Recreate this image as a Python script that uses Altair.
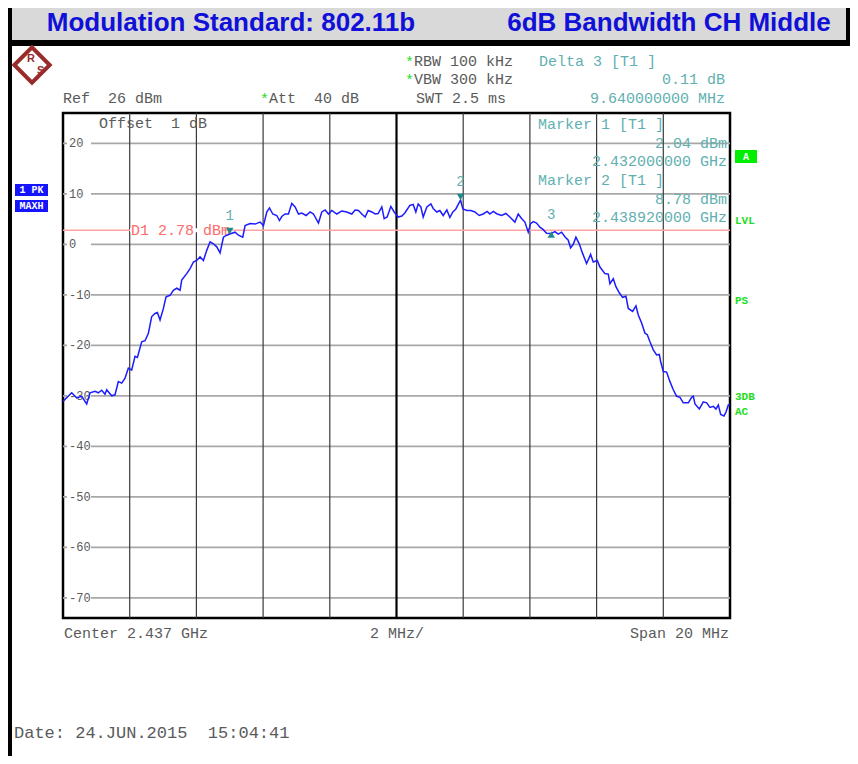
import altair as alt
import pandas as pd

# ---------------- data ----------------
# frequency offset from span start (MHz, span start = 2.427 GHz), trace level (dBm)
trace_offset_mhz = [
    0.00, 0.26, 0.41, 0.56, 0.71, 0.81, 0.96, 1.06, 1.16, 1.26,
    1.31, 1.46, 1.56, 1.66, 1.76, 1.86, 1.96, 2.06, 2.16, 2.23,
    2.36, 2.46, 2.56, 2.66, 2.76, 2.83, 2.91, 3.01, 3.09, 3.21,
    3.31, 3.41, 3.51, 3.56, 3.71, 3.81, 3.91, 4.01, 4.11, 4.21,
    4.31, 4.41, 4.51, 4.61, 4.71, 4.81, 4.91, 5.00, 5.16, 5.26,
    5.39, 5.46, 5.61, 5.76, 5.91, 6.01, 6.11, 6.19, 6.29, 6.41,
    6.49, 6.56, 6.66, 6.76, 6.86, 6.96, 7.06, 7.16, 7.29, 7.41,
    7.51, 7.66, 7.76, 7.86, 7.96, 8.06, 8.21, 8.36, 8.51, 8.66,
    8.76, 8.86, 8.96, 9.06, 9.15, 9.26, 9.36, 9.45, 9.56, 9.63,
    9.72, 9.83, 9.93, 10.05, 10.16, 10.25, 10.40, 10.50, 10.58, 10.65,
    10.73, 10.80, 10.91, 11.03, 11.10, 11.21, 11.30, 11.40, 11.51, 11.60,
    11.69, 11.78, 11.92, 11.99, 12.11, 12.23, 12.35, 12.48, 12.60, 12.72,
    12.80, 12.90, 13.02, 13.15, 13.28, 13.40, 13.55, 13.65, 13.75, 13.85,
    13.95, 14.02, 14.10, 14.20, 14.30, 14.40, 14.50, 14.64, 14.75, 14.85,
    14.95, 15.05, 15.15, 15.22, 15.30, 15.38, 15.48, 15.58, 15.70, 15.82,
    15.90, 16.02, 16.10, 16.25, 16.35, 16.40, 16.50, 16.58, 16.68, 16.78,
    16.88, 16.95, 17.08, 17.18, 17.25, 17.35, 17.45, 17.52, 17.60, 17.70,
    17.80, 17.88, 17.92, 18.00, 18.10, 18.20, 18.30, 18.40, 18.50, 18.60,
    18.75, 18.85, 18.90, 18.95, 19.08, 19.20, 19.30, 19.40, 19.50, 19.58,
    19.65, 19.72, 19.82, 19.88, 19.95, 20.00,
]
trace_level_dbm = [
    -31.1, -29.4, -30.4, -30.1, -31.6, -29.4, -29.1, -29.4, -28.9, -29.7,
    -28.8, -30.0, -29.8, -27.2, -27.5, -26.5, -24.5, -24.9, -22.2, -22.4,
    -19.3, -19.1, -17.6, -14.3, -13.7, -13.5, -15.0, -12.7, -10.4, -10.1,
    -9.1, -8.7, -9.1, -7.1, -5.8, -4.8, -3.5, -3.2, -2.5, -3.2,
    -1.2, 0.5, 0.1, -0.5, -1.7, 1.4, 1.8, 2.04, 2.4, 1.8,
    1.4, 3.7, 4.1, 4.0, 4.4, 3.7, 6.4, 7.2, 6.0, 5.7,
    4.7, 5.5, 6.0, 6.0, 8.1, 7.4, 6.0, 6.2, 5.7, 6.4,
    6.0, 4.2, 6.4, 6.8, 6.0, 6.7, 6.0, 6.6, 6.4, 6.0,
    6.8, 6.7, 6.0, 5.4, 6.7, 6.4, 6.0, 6.1, 7.4, 5.1,
    5.4, 7.5, 6.4, 5.4, 5.6, 6.2, 7.7, 7.9, 6.4, 8.0,
    7.4, 5.4, 7.4, 8.0, 7.1, 6.4, 6.7, 5.7, 6.8, 5.3,
    6.4, 7.0, 8.78, 7.0, 6.7, 6.7, 6.4, 5.7, 6.0, 6.5,
    6.0, 6.5, 6.0, 5.7, 6.1, 5.4, 4.4, 6.0, 5.1, 4.4,
    2.4, 4.1, 4.5, 4.2, 3.4, 2.9, 2.2, 2.15, 2.5, 2.0,
    2.4, 1.5, 0.8, -0.7, 0.0, 1.4, 0.1, -1.8, -3.8, -2.0,
    -3.5, -3.2, -4.5, -5.8, -5.9, -7.8, -6.8, -8.4, -9.6, -10.5,
    -10.3, -12.7, -13.3, -12.2, -14.0, -15.6, -17.6, -17.9, -19.3, -20.9,
    -21.9, -21.8, -23.2, -25.2, -25.3, -27.2, -28.8, -30.1, -30.3, -31.4,
    -31.4, -30.3, -30.1, -31.6, -32.6, -31.2, -31.4, -32.3, -32.1, -32.6,
    -31.8, -33.7, -34.0, -33.2, -31.8, -31.7,
]

marker_names = ["1", "2", "3"]
marker_offset_mhz = [5.00, 11.92, 14.64]
marker_level_dbm = [2.04, 8.78, 2.15]

display_line_dbm = 2.78
level_ticks = [20, 10, 0, -10, -20, -30, -40, -50, -60, -70]
level_labels = ["20", "10", "0", "-10", "-20", "-30", "-40", "-50", "-60", "-70"]
freq_grid_mhz = [2, 4, 6, 8, 12, 14, 16, 18]
center_mhz = [10]

# ---------------- layout helpers ----------------
PX0, PY0 = 63, 113          # plot origin in page pixels
W, H = 667, 505
MONO = "Liberation Mono"
GRAY = "#5a5a5a"
TEAL = "#5fb0b0"
GREEN = "#22dd22"
NB = "\u00a0"               # keeps double spaces from collapsing

one = pd.DataFrame({"k": [0]})


def txt(s, x, y, color=GRAY, size=15, align="left", font=MONO, weight="normal"):
    return alt.Chart(one).mark_text(
        text=s.replace("  ", " " + NB), align=align, baseline="middle", fontSize=size, font=font,
        fontWeight=weight, color=color
    ).encode(x=alt.value(x - PX0), y=alt.value(y - PY0))


def box(x1, y1, x2, y2, color):
    return alt.Chart(one).mark_rect(color=color).encode(
        x=alt.value(x1 - PX0), x2=alt.value(x2 - PX0),
        y=alt.value(y1 - PY0), y2=alt.value(y2 - PY0))


xs = alt.Scale(domain=[0, 20], nice=False, zero=False)
ys = alt.Scale(domain=[-74, 26], nice=False, zero=False)


def X(field="f:Q"):
    return alt.X(field, scale=xs, axis=None)


def Y(field="v:Q"):
    return alt.Y(field, scale=ys, axis=None)


trace = pd.DataFrame({"f": trace_offset_mhz, "v": trace_level_dbm})
markers = pd.DataFrame({"name": marker_names, "f": marker_offset_mhz, "v": marker_level_dbm})
ticks = pd.DataFrame({"v": level_ticks, "lab": level_labels})
dl = pd.DataFrame({"v": [display_line_dbm]})

hgrid = alt.Chart(ticks).mark_rule(color="#a8a8a8", strokeWidth=1.8).encode(y=Y())
vgrid = alt.Chart(pd.DataFrame({"f": freq_grid_mhz})).mark_rule(color="#3a3a3a", strokeWidth=1.2).encode(x=X())
cgrid = alt.Chart(pd.DataFrame({"f": center_mhz})).mark_rule(color="#000000", strokeWidth=2.2).encode(x=X())

dline = alt.Chart(dl).mark_rule(color="#ffa4a4", strokeWidth=1.6).encode(y=Y())
dmask = alt.Chart(dl).mark_rule(color="white", strokeWidth=4).encode(
    y=Y(), x=alt.value(130 - PX0), x2=alt.value(222 - PX0))
dtext = alt.Chart(dl).mark_text(
    text="D1 2.78 dBm", align="left", baseline="middle", fontSize=15, font=MONO, color="#ff6a6a"
).encode(y=Y(), x=alt.value(131 - PX0))

tmask = alt.Chart(ticks).mark_rule(color="white", strokeWidth=5).encode(
    y=Y(), x=alt.value(4), x2=alt.value(28))
tlab = alt.Chart(ticks).mark_text(
    align="left", baseline="middle", fontSize=12, font=MONO, color=GRAY
).encode(y=Y(), x=alt.value(6), text="lab:N")

line = alt.Chart(trace).mark_line(color="#1c1cff", strokeWidth=1.5, clip=True).encode(x=X(), y=Y())

mk_down = alt.Chart(markers).transform_filter("datum.name != '3'").mark_point(
    shape="triangle-down", filled=True, size=55, color="#1f8c8c", opacity=1, yOffset=-3
).encode(x=X(), y=Y())
mk_up = alt.Chart(markers).transform_filter("datum.name == '3'").mark_point(
    shape="triangle-up", filled=True, size=55, color="#1f8c8c", opacity=1, yOffset=1
).encode(x=X(), y=Y())
mk_lab = alt.Chart(markers).mark_text(
    fontSize=14, font=MONO, color=TEAL, baseline="middle", dy=-18
).encode(x=X(), y=Y(), text="name:N")

layers = [
    # page frame / title bar
    box(8, 8, 858, 40, "#d9d9d9"),
    box(8, 40, 858, 46, "#000000"),
    box(8, 8, 12, 764, "#000000"),
    box(846, 8, 858, 46, "#000000"),
    txt("Modulation Standard: 802.11b", 231, 23, color="#1010d8", size=26,
        align="center", font="Liberation Sans", weight="bold"),
    txt("6dB Bandwidth CH Middle", 669, 23, color="#1010d8", size=26,
        align="center", font="Liberation Sans", weight="bold"),
    # grid and plot
    hgrid, vgrid, cgrid, dline, dmask, tmask, tlab, dtext, line,
    mk_down, mk_up, mk_lab,
]

# R&S logo
logo = alt.Chart(one).mark_point(shape="diamond", size=1250, filled=False, color="#9a2b2b",
                                  strokeWidth=4, opacity=1).encode(
    x=alt.value(32 - PX0), y=alt.value(65 - PY0))
layers += [logo,
           txt("R", 27, 59, color="#9a2b2b", size=11, weight="bold", font="Liberation Sans"),
           txt("S", 37, 71, color="#9a2b2b", size=11, weight="bold", font="Liberation Sans")]

# header text
layers += [
    txt("*", 405, 62, color=GREEN, size=15), txt("RBW 100 kHz", 414, 61),
    txt("*", 405, 80, color=GREEN, size=15), txt("VBW 300 kHz", 414, 79),
    txt("Ref  26 dBm", 63, 98),
    txt("*", 260, 99, color=GREEN, size=15), txt("Att  40 dB", 269, 98),
    txt("SWT 2.5 ms", 416, 98),
    txt("Delta 3 [T1 ]", 539, 61, color=TEAL),
    txt("0.11 dB", 725, 79, color=TEAL, align="right"),
    txt("9.640000000 MHz", 725, 98, color=TEAL, align="right"),
    # inside the plot
    txt("Offset  1 dB", 99, 123),
    txt("Marker 1 [T1 ]", 538, 124, color=TEAL),
    txt("2.04 dBm", 727, 143, color=TEAL, align="right"),
    txt("2.432000000 GHz", 727, 161, color=TEAL, align="right"),
    txt("Marker 2 [T1 ]", 538, 180, color=TEAL),
    txt("8.78 dBm", 727, 199, color=TEAL, align="right"),
    txt("2.438920000 GHz", 727, 217, color=TEAL, align="right"),
    # footer
    txt("Center 2.437 GHz", 64, 633),
    txt("2 MHz/", 397, 633, align="center"),
    txt("Span 20 MHz", 729, 633, align="right"),
    txt("Date: 24.JUN.2015  15:04:41", 14, 733, size=17),
]

# side indicators
layers += [
    box(15, 184, 48, 196, "#1414ff"),
    txt("1 PK", 31.5, 190, color="white", size=10, align="center", weight="bold"),
    box(15, 200, 48, 212, "#1414ff"),
    txt("MAXH", 31.5, 206, color="white", size=10, align="center", weight="bold"),
    box(735, 150, 757, 163, "#00ee00"),
    txt("A", 746, 156.5, color="white", size=10, align="center", weight="bold"),
    txt("LVL", 735, 221, color=GREEN, size=11, weight="bold"),
    txt("PS", 735, 301, color=GREEN, size=11, weight="bold"),
    txt("3DB", 735, 397, color=GREEN, size=11, weight="bold"),
    txt("AC", 735, 412, color=GREEN, size=11, weight="bold"),
]

chart = alt.layer(*layers).properties(
    width=W, height=H,
    padding={"left": 55, "top": 105, "right": 120, "bottom": 138},
    autosize=alt.AutoSizeParams(type="none"),
    background="white",
).configure_view(stroke="#000000", strokeWidth=2.5)

chart.save("out.html", embed_options={"renderer": "svg", "actions": False})
